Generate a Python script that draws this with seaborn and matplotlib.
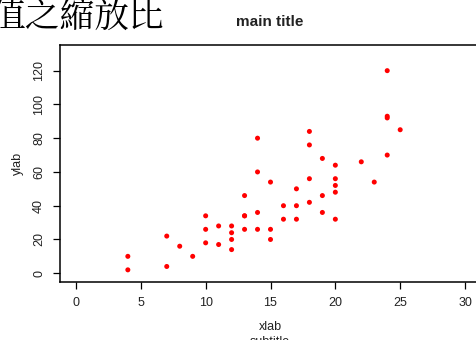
import matplotlib
matplotlib.use("Agg")
import matplotlib.pyplot as plt
import seaborn as sns
import pandas as pd

# R "cars" data: speed vs stopping distance
speed = [4, 4, 7, 7, 8, 9, 10, 10, 10, 11, 11, 12, 12, 12, 12, 13, 13, 13, 13, 14,
         14, 14, 14, 15, 15, 15, 16, 16, 17, 17, 17, 18, 18, 18, 18, 19, 19, 19, 20, 20,
         20, 20, 20, 22, 23, 24, 24, 24, 24, 25]
dist = [2, 10, 4, 22, 16, 10, 18, 26, 34, 17, 28, 14, 20, 24, 28, 26, 34, 34, 46, 26,
        36, 60, 80, 20, 26, 54, 32, 40, 32, 40, 50, 42, 56, 76, 84, 36, 46, 68, 32, 48,
        52, 56, 64, 66, 54, 70, 92, 93, 120, 85]
x_ticks = [0, 5, 10, 15, 20, 25, 30]
y_ticks = [0, 20, 40, 60, 80, 100, 120]

df = pd.DataFrame({"speed": speed, "dist": dist})

sns.set_style("white")
plt.rcParams["font.family"] = ["Liberation Sans", "DejaVu Sans"]

W, H = 476, 340
fig = plt.figure(figsize=(W / 100, H / 100), dpi=100)
ax = fig.add_axes([60.4 / W, (H - 282) / H, 420.2 / W, 237 / H])

sns.scatterplot(data=df, x="speed", y="dist", ax=ax, color="red",
                s=13, edgecolor="none", legend=False)

ax.set_xlim(-1.2, 31.2)
ax.set_ylim(-5.2, 135.2)
ax.set_xticks(x_ticks)
ax.set_yticks(y_ticks)
ax.set_xlabel("")
ax.set_ylabel("")
ax.tick_params(axis="both", direction="out", length=5, width=0.9, color="black",
               labelsize=9, labelcolor="#222222", left=True, bottom=True)
ax.tick_params(axis="x", pad=6)
ax.tick_params(axis="y", pad=6)
for lbl in ax.get_yticklabels():
    lbl.set_rotation(90)
    lbl.set_va("center")
for sp in ax.spines.values():
    sp.set_visible(True)
    sp.set_color("black")
    sp.set_linewidth(1.1)

fig.text(270 / W, 1 - 22 / H, "main title", ha="center", va="center",
         fontsize=11, fontweight="bold", color="#222222")
fig.text(270 / W, 1 - 327 / H, "xlab", ha="center", va="center",
         fontsize=9, color="#222222")
fig.text(270 / W, 1 - 342 / H, "subtitle", ha="center", va="center",
         fontsize=9, color="#222222")
fig.text(18 / W, 1 - 163 / H, "ylab", ha="center", va="center", rotation=90,
         fontsize=9, color="#222222")
fig.text(-10 / W, 1 - 17 / H, "值之縮放比", ha="left", va="center",
         fontsize=25, color="black",
         family=["Noto Serif CJK TC", "Noto Sans CJK TC", "DejaVu Sans"])

fig.savefig("out.png", dpi=100)
